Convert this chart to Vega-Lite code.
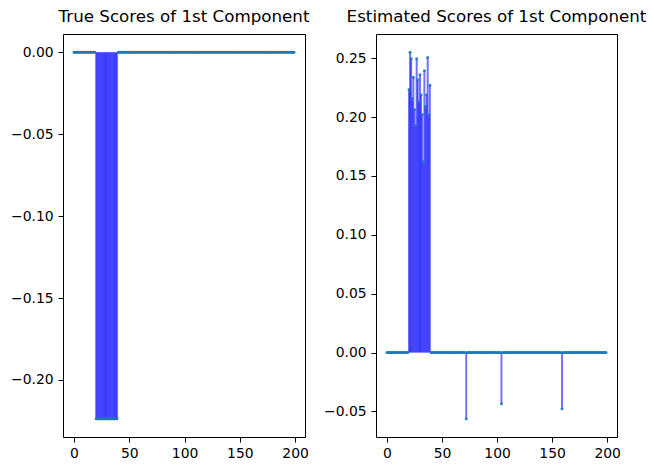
{
  "$schema": "https://vega.github.io/schema/vega-lite/v6.json",
  "padding": {"left": 10, "top": 8, "right": 5, "bottom": 5},
  "bounds": "flush",
  "spacing": 71,
  "config": {
    "view": {"stroke": "black", "strokeWidth": 1},
    "font": "DejaVu Sans",
    "axis": {"grid": false, "domain": false, "tickColor": "black", "tickSize": 5, "tickWidth": 1, "labelColor": "black", "labelFontSize": 13.9, "labelFont": "DejaVu Sans", "labelPadding": 4.9, "title": null},
    "title": {"fontSize": 16.7, "fontWeight": "normal", "font": "DejaVu Sans", "offset": 8, "frame": "group", "color": "black", "anchor": "middle"}
  },
  "datasets": {
    "d": [
      {"i":0,"t":0,"e":0},{"i":1,"t":0,"e":0},{"i":2,"t":0,"e":0},{"i":3,"t":0,"e":0},{"i":4,"t":0,"e":0},
      {"i":5,"t":0,"e":0},{"i":6,"t":0,"e":0},{"i":7,"t":0,"e":0},{"i":8,"t":0,"e":0},{"i":9,"t":0,"e":0},
      {"i":10,"t":0,"e":0},{"i":11,"t":0,"e":0},{"i":12,"t":0,"e":0},{"i":13,"t":0,"e":0},{"i":14,"t":0,"e":0},
      {"i":15,"t":0,"e":0},{"i":16,"t":0,"e":0},{"i":17,"t":0,"e":0},{"i":18,"t":0,"e":0},{"i":19,"t":0,"e":0},
      {"i":20,"t":-0.2236,"e":0.2233},{"i":21,"t":-0.2236,"e":0.2549},{"i":22,"t":-0.2236,"e":0.2495},{"i":23,"t":-0.2236,"e":0.2157},{"i":24,"t":-0.2236,"e":0.2337},
      {"i":25,"t":-0.2236,"e":0.2063},{"i":26,"t":-0.2236,"e":0.1928},{"i":27,"t":-0.2236,"e":0.2495},{"i":28,"t":-0.2236,"e":0.2317},{"i":29,"t":-0.2236,"e":0.2128},
      {"i":30,"t":-0.2236,"e":0.2359},{"i":31,"t":-0.2236,"e":0.2190},{"i":32,"t":-0.2236,"e":0.2021},{"i":33,"t":-0.2236,"e":0.1623},{"i":34,"t":-0.2236,"e":0.2394},
      {"i":35,"t":-0.2236,"e":0.2089},{"i":36,"t":-0.2236,"e":0.2190},{"i":37,"t":-0.2236,"e":0.2506},{"i":38,"t":-0.2236,"e":0.2021},{"i":39,"t":-0.2236,"e":0.2269},
      {"i":40,"t":0,"e":0},{"i":41,"t":0,"e":0},{"i":42,"t":0,"e":0},{"i":43,"t":0,"e":0},{"i":44,"t":0,"e":0},
      {"i":45,"t":0,"e":0},{"i":46,"t":0,"e":0},{"i":47,"t":0,"e":0},{"i":48,"t":0,"e":0},{"i":49,"t":0,"e":0},
      {"i":50,"t":0,"e":0},{"i":51,"t":0,"e":0},{"i":52,"t":0,"e":0},{"i":53,"t":0,"e":0},{"i":54,"t":0,"e":0},
      {"i":55,"t":0,"e":0},{"i":56,"t":0,"e":0},{"i":57,"t":0,"e":0},{"i":58,"t":0,"e":0},{"i":59,"t":0,"e":0},
      {"i":60,"t":0,"e":0},{"i":61,"t":0,"e":0},{"i":62,"t":0,"e":0},{"i":63,"t":0,"e":0},{"i":64,"t":0,"e":0},
      {"i":65,"t":0,"e":0},{"i":66,"t":0,"e":0},{"i":67,"t":0,"e":0},{"i":68,"t":0,"e":0},{"i":69,"t":0,"e":0},
      {"i":70,"t":0,"e":0},{"i":71,"t":0,"e":0},{"i":72,"t":0,"e":-0.0561},{"i":73,"t":0,"e":0},{"i":74,"t":0,"e":0},
      {"i":75,"t":0,"e":0},{"i":76,"t":0,"e":0},{"i":77,"t":0,"e":0},{"i":78,"t":0,"e":0},{"i":79,"t":0,"e":0},
      {"i":80,"t":0,"e":0},{"i":81,"t":0,"e":0},{"i":82,"t":0,"e":0},{"i":83,"t":0,"e":0},{"i":84,"t":0,"e":0},
      {"i":85,"t":0,"e":0},{"i":86,"t":0,"e":0},{"i":87,"t":0,"e":0},{"i":88,"t":0,"e":0},{"i":89,"t":0,"e":0},
      {"i":90,"t":0,"e":0},{"i":91,"t":0,"e":0},{"i":92,"t":0,"e":0},{"i":93,"t":0,"e":0},{"i":94,"t":0,"e":0},
      {"i":95,"t":0,"e":0},{"i":96,"t":0,"e":0},{"i":97,"t":0,"e":0},{"i":98,"t":0,"e":0},{"i":99,"t":0,"e":0},
      {"i":100,"t":0,"e":0},{"i":101,"t":0,"e":0},{"i":102,"t":0,"e":0},{"i":103,"t":0,"e":0},{"i":104,"t":0,"e":-0.0434},
      {"i":105,"t":0,"e":0},{"i":106,"t":0,"e":0},{"i":107,"t":0,"e":0},{"i":108,"t":0,"e":0},{"i":109,"t":0,"e":0},
      {"i":110,"t":0,"e":0},{"i":111,"t":0,"e":0},{"i":112,"t":0,"e":0},{"i":113,"t":0,"e":0},{"i":114,"t":0,"e":0},
      {"i":115,"t":0,"e":0},{"i":116,"t":0,"e":0},{"i":117,"t":0,"e":0},{"i":118,"t":0,"e":0},{"i":119,"t":0,"e":0},
      {"i":120,"t":0,"e":0},{"i":121,"t":0,"e":0},{"i":122,"t":0,"e":0},{"i":123,"t":0,"e":0},{"i":124,"t":0,"e":0},
      {"i":125,"t":0,"e":0},{"i":126,"t":0,"e":0},{"i":127,"t":0,"e":0},{"i":128,"t":0,"e":0},{"i":129,"t":0,"e":0},
      {"i":130,"t":0,"e":0},{"i":131,"t":0,"e":0},{"i":132,"t":0,"e":0},{"i":133,"t":0,"e":0},{"i":134,"t":0,"e":0},
      {"i":135,"t":0,"e":0},{"i":136,"t":0,"e":0},{"i":137,"t":0,"e":0},{"i":138,"t":0,"e":0},{"i":139,"t":0,"e":0},
      {"i":140,"t":0,"e":0},{"i":141,"t":0,"e":0},{"i":142,"t":0,"e":0},{"i":143,"t":0,"e":0},{"i":144,"t":0,"e":0},
      {"i":145,"t":0,"e":0},{"i":146,"t":0,"e":0},{"i":147,"t":0,"e":0},{"i":148,"t":0,"e":0},{"i":149,"t":0,"e":0},
      {"i":150,"t":0,"e":0},{"i":151,"t":0,"e":0},{"i":152,"t":0,"e":0},{"i":153,"t":0,"e":0},{"i":154,"t":0,"e":0},
      {"i":155,"t":0,"e":0},{"i":156,"t":0,"e":0},{"i":157,"t":0,"e":0},{"i":158,"t":0,"e":0},{"i":159,"t":0,"e":-0.0477},
      {"i":160,"t":0,"e":0},{"i":161,"t":0,"e":0},{"i":162,"t":0,"e":0},{"i":163,"t":0,"e":0},{"i":164,"t":0,"e":0},
      {"i":165,"t":0,"e":0},{"i":166,"t":0,"e":0},{"i":167,"t":0,"e":0},{"i":168,"t":0,"e":0},{"i":169,"t":0,"e":0},
      {"i":170,"t":0,"e":0},{"i":171,"t":0,"e":0},{"i":172,"t":0,"e":0},{"i":173,"t":0,"e":0},{"i":174,"t":0,"e":0},
      {"i":175,"t":0,"e":0},{"i":176,"t":0,"e":0},{"i":177,"t":0,"e":0},{"i":178,"t":0,"e":0},{"i":179,"t":0,"e":0},
      {"i":180,"t":0,"e":0},{"i":181,"t":0,"e":0},{"i":182,"t":0,"e":0},{"i":183,"t":0,"e":0},{"i":184,"t":0,"e":0},
      {"i":185,"t":0,"e":0},{"i":186,"t":0,"e":0},{"i":187,"t":0,"e":0},{"i":188,"t":0,"e":0},{"i":189,"t":0,"e":0},
      {"i":190,"t":0,"e":0},{"i":191,"t":0,"e":0},{"i":192,"t":0,"e":0},{"i":193,"t":0,"e":0},{"i":194,"t":0,"e":0},
      {"i":195,"t":0,"e":0},{"i":196,"t":0,"e":0},{"i":197,"t":0,"e":0},{"i":198,"t":0,"e":0},{"i":199,"t":0,"e":0}
    ]
  },
  "hconcat": [
    {
      "title": "True Scores of 1st Component",
      "width": 242,
      "height": 403,
      "data": {"name": "d"},
      "encoding": {
        "x": {"field": "i", "type": "quantitative", "scale": {"domain": [-9.95, 208.95], "nice": false, "zero": false}, "axis": {"values": [0, 50, 100, 150, 200], "format": "d"}},
        "y": {"field": "t", "type": "quantitative", "scale": {"domain": [-0.2348, 0.0112], "nice": false, "zero": false}, "axis": {"values": [0, -0.05, -0.1, -0.15, -0.2], "format": ".2f"}}
      },
      "layer": [
        {"mark": {"type": "rule", "color": "#0000ff", "opacity": 0.55, "strokeWidth": 2}, "encoding": {"y2": {"datum": 0}}},
        {"mark": {"type": "point", "shape": "circle", "filled": true, "color": "#1f77b4", "opacity": 0.9, "size": 9}}
      ]
    },
    {
      "title": "Estimated Scores of 1st Component",
      "width": 241,
      "height": 403,
      "data": {"name": "d"},
      "encoding": {
        "x": {"field": "i", "type": "quantitative", "scale": {"domain": [-9.95, 208.95], "nice": false, "zero": false}, "axis": {"values": [0, 50, 100, 150, 200], "format": "d"}},
        "y": {"field": "e", "type": "quantitative", "scale": {"domain": [-0.0717, 0.2705], "nice": false, "zero": false}, "axis": {"values": [-0.05, 0, 0.05, 0.1, 0.15, 0.2, 0.25], "format": ".2f"}}
      },
      "layer": [
        {"mark": {"type": "rule", "color": "#0000ff", "opacity": 0.55, "strokeWidth": 2}, "encoding": {"y2": {"datum": 0}}},
        {"mark": {"type": "point", "shape": "circle", "filled": true, "color": "#1f77b4", "opacity": 0.9, "size": 9}}
      ]
    }
  ]
}
